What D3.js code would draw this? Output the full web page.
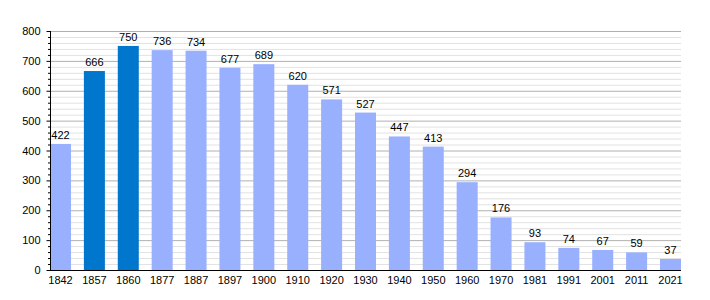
<!DOCTYPE html>
<html><head><meta charset="utf-8">
<script src="https://cdn.jsdelivr.net/npm/d3@7"></script>
<style>body{margin:0;background:#fff}svg{display:block;font-family:"Liberation Sans",Arial,sans-serif}</style>
</head><body><svg id="c" width="710" height="300"></svg>
<script>
const years = ["1842","1857","1860","1877","1887","1897","1900","1910","1920","1930","1940","1950","1960","1970","1981","1991","2001","2011","2021"];
const population = [422,666,750,736,734,677,689,620,571,527,447,413,294,176,93,74,67,59,37];
const highlighted = ["1857","1860"];
const yTicks = [0,100,200,300,400,500,600,700,800];

(function(){
const svg = d3.select("#c");
const mL = 50, mR = 681, mT = 31, mB = 270;
const x = d3.scaleBand().domain(years).range([mL, mR]).paddingInner(0.38).paddingOuter(0);
const y = d3.scaleLinear().domain([0, 800]).range([mB, mT]);

const minor = d3.range(0, 801, 20).filter(v => v % 100 !== 0);
svg.append("g").selectAll("line").data(minor).join("line")
  .attr("x1", mL).attr("x2", mR).attr("y1", d => y(d) + 0.5).attr("y2", d => y(d) + 0.5)
  .attr("stroke", "#e2e2e2").attr("stroke-width", 1);
svg.append("g").selectAll("line").data(yTicks.filter(v => v > 0)).join("line")
  .attr("x1", mL).attr("x2", mR).attr("y1", d => y(d) + 0.5).attr("y2", d => y(d) + 0.5)
  .attr("stroke", "#b0b0b0").attr("stroke-width", 1);

svg.append("g").selectAll("rect").data(years).join("rect")
  .attr("x", d => x(d)).attr("width", x.bandwidth())
  .attr("y", (d, i) => y(population[i])).attr("height", (d, i) => y(0) - y(population[i]))
  .attr("fill", d => highlighted.includes(d) ? "#0077cc" : "#99b0ff");

svg.append("g").selectAll("text").data(years).join("text")
  .attr("x", d => x(d) + x.bandwidth() / 2).attr("y", (d, i) => y(population[i]) - 5)
  .attr("text-anchor", "middle").attr("font-size", 11).attr("fill", "#000")
  .text((d, i) => population[i]);

const ya = svg.append("g").attr("transform", `translate(${mL + 0.5},0)`)
  .call(d3.axisLeft(y).tickValues(yTicks).tickSize(4).tickPadding(6));
ya.select(".domain").remove();
ya.selectAll("text").attr("font-size", 11).attr("font-family", "Liberation Sans, Arial, sans-serif").attr("fill", "#000");
ya.selectAll("line").attr("stroke", "#000");
svg.append("g").selectAll("line").data(minor).join("line")
  .attr("x1", mL - 2).attr("x2", mL).attr("y1", d => y(d) + 0.5).attr("y2", d => y(d) + 0.5)
  .attr("stroke", "#000");
svg.append("line").attr("x1", mL + 0.5).attr("x2", mL + 0.5).attr("y1", mT).attr("y2", mB + 1).attr("stroke", "#000");

const xa = svg.append("g").attr("transform", `translate(0,${mB + 0.5})`)
  .call(d3.axisBottom(x).tickSize(0).tickPadding(6));
xa.select(".domain").attr("d", `M${mL},0H${mR}`).attr("stroke", "#000");
xa.selectAll("text").attr("font-size", 11).attr("font-family", "Liberation Sans, Arial, sans-serif").attr("fill", "#000");
})();
</script></body></html>
